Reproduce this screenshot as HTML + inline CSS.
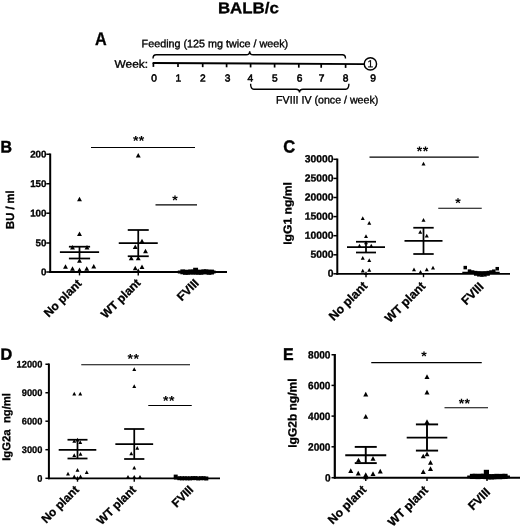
<!DOCTYPE html>
<html lang="en"><head><meta charset="utf-8"><title>BALB/c</title>
<style>html,body{margin:0;padding:0;background:#fff}body{width:520px;height:526px;overflow:hidden}svg{display:block}</style>
</head><body>
<svg width="520" height="526" viewBox="0 0 520 526" font-family='"Liberation Sans", sans-serif' fill="#000">
<rect width="520" height="526" fill="#fff"/>
<text x="248.40" y="13.20" font-size="15.7" font-weight="700" stroke="#000" stroke-width="0.3" text-anchor="middle" textLength="61.00" lengthAdjust="spacingAndGlyphs" transform="rotate(0.05 248.40 13.20)" >BALB/c</text>
<g id="panel-A">
<text x="95.00" y="44.90" font-size="18.3" font-weight="700" stroke="#000" stroke-width="0.3" textLength="11.70" lengthAdjust="spacingAndGlyphs" transform="rotate(0.05 95.00 44.90)" >A</text>
<text x="141.60" y="47.15" font-size="10.8" stroke="#000" stroke-width="0.35" textLength="146.60" lengthAdjust="spacingAndGlyphs" transform="rotate(0.05 141.60 47.15)" >Feeding (125 mg twice / week)</text>
<text x="114.60" y="67.80" font-size="11.0" stroke="#000" stroke-width="0.35" textLength="33.40" lengthAdjust="spacingAndGlyphs" transform="rotate(0.05 114.60 67.80)" >Week:</text>
<line x1="152.60" y1="63.00" x2="364.50" y2="64.10" stroke="#000" stroke-width="1.9" />
<line x1="153.40" y1="63.00" x2="153.40" y2="66.90" stroke="#000" stroke-width="1.7" />
<line x1="178.00" y1="63.13" x2="178.00" y2="67.03" stroke="#000" stroke-width="1.7" />
<line x1="202.70" y1="63.26" x2="202.70" y2="67.16" stroke="#000" stroke-width="1.7" />
<line x1="226.60" y1="63.38" x2="226.60" y2="67.28" stroke="#000" stroke-width="1.7" />
<line x1="250.60" y1="63.51" x2="250.60" y2="67.41" stroke="#000" stroke-width="1.7" />
<line x1="274.60" y1="63.63" x2="274.60" y2="67.53" stroke="#000" stroke-width="1.7" />
<line x1="298.80" y1="63.76" x2="298.80" y2="67.66" stroke="#000" stroke-width="1.7" />
<line x1="321.20" y1="63.88" x2="321.20" y2="67.78" stroke="#000" stroke-width="1.7" />
<line x1="345.60" y1="64.00" x2="345.60" y2="67.90" stroke="#000" stroke-width="1.7" />
<text x="154.00" y="81.60" font-size="10.2" stroke="#000" stroke-width="0.55" text-anchor="middle" transform="rotate(0.05 154.00 81.60)" >0</text>
<text x="178.30" y="81.60" font-size="10.2" stroke="#000" stroke-width="0.55" text-anchor="middle" transform="rotate(0.05 178.30 81.60)" >1</text>
<text x="202.80" y="81.60" font-size="10.2" stroke="#000" stroke-width="0.55" text-anchor="middle" transform="rotate(0.05 202.80 81.60)" >2</text>
<text x="227.60" y="81.60" font-size="10.2" stroke="#000" stroke-width="0.55" text-anchor="middle" transform="rotate(0.05 227.60 81.60)" >3</text>
<text x="250.40" y="81.60" font-size="10.2" stroke="#000" stroke-width="0.55" text-anchor="middle" transform="rotate(0.05 250.40 81.60)" >4</text>
<text x="274.90" y="81.60" font-size="10.2" stroke="#000" stroke-width="0.55" text-anchor="middle" transform="rotate(0.05 274.90 81.60)" >5</text>
<text x="299.60" y="81.60" font-size="10.2" stroke="#000" stroke-width="0.55" text-anchor="middle" transform="rotate(0.05 299.60 81.60)" >6</text>
<text x="321.60" y="81.60" font-size="10.2" stroke="#000" stroke-width="0.55" text-anchor="middle" transform="rotate(0.05 321.60 81.60)" >7</text>
<text x="345.60" y="81.60" font-size="10.2" stroke="#000" stroke-width="0.55" text-anchor="middle" transform="rotate(0.05 345.60 81.60)" >8</text>
<text x="373.20" y="81.60" font-size="10.2" stroke="#000" stroke-width="0.55" text-anchor="middle" transform="rotate(0.05 373.20 81.60)" >9</text>
<circle cx="370.4" cy="63.9" r="6.15" fill="#fff" stroke="#000" stroke-width="1.45"/>
<text x="370.30" y="67.35" font-size="10.2" stroke="#000" stroke-width="0.25" text-anchor="middle" transform="rotate(0.05 370.30 67.35)" >1</text>
<path d="M153.0 58.4 Q153.0 54.8 156.2 54.8 L246.2 54.8 Q249.7 54.8 249.7 51.199999999999996 Q249.7 54.8 253.2 54.8 L342.3 54.8 Q345.5 54.8 345.5 58.4" fill="none" stroke="#000" stroke-width="1.4"/>
<path d="M250.6 83.8 Q250.6 89.2 253.79999999999998 89.2 L296.0 89.2 Q299.5 89.2 299.5 92.4 Q299.5 89.2 303.0 89.2 L345.7 89.2 Q348.9 89.2 348.9 83.8" fill="none" stroke="#000" stroke-width="1.4"/>
<text x="276.10" y="103.50" font-size="10.8" stroke="#000" stroke-width="0.35" textLength="102.20" lengthAdjust="spacingAndGlyphs" transform="rotate(0.05 276.10 103.50)" >FVIII IV (once / week)</text>
</g>
<g id="panel-B">
<text x="0.50" y="152.40" font-size="16.7" font-weight="700" stroke="#000" stroke-width="0.45" textLength="11.50" lengthAdjust="spacingAndGlyphs" transform="rotate(0.05 0.50 152.40)" >B</text>
<line x1="50.20" y1="153.50" x2="50.20" y2="272.90" stroke="#000" stroke-width="2.0" />
<line x1="49.30" y1="272.00" x2="227.00" y2="272.00" stroke="#000" stroke-width="1.85" />
<line x1="46.30" y1="154.25" x2="50.20" y2="154.25" stroke="#000" stroke-width="1.5" />
<text x="46.50" y="157.50" font-size="9.8" font-weight="700" stroke="#000" stroke-width="0.3" text-anchor="end" textLength="16.35" lengthAdjust="spacingAndGlyphs" transform="rotate(0.05 46.50 157.50)" >200</text>
<line x1="46.30" y1="183.75" x2="50.20" y2="183.75" stroke="#000" stroke-width="1.5" />
<text x="46.50" y="187.00" font-size="9.8" font-weight="700" stroke="#000" stroke-width="0.3" text-anchor="end" textLength="16.35" lengthAdjust="spacingAndGlyphs" transform="rotate(0.05 46.50 187.00)" >150</text>
<line x1="46.30" y1="213.20" x2="50.20" y2="213.20" stroke="#000" stroke-width="1.5" />
<text x="46.50" y="216.45" font-size="9.8" font-weight="700" stroke="#000" stroke-width="0.3" text-anchor="end" textLength="16.35" lengthAdjust="spacingAndGlyphs" transform="rotate(0.05 46.50 216.45)" >100</text>
<line x1="46.30" y1="243.00" x2="50.20" y2="243.00" stroke="#000" stroke-width="1.5" />
<text x="46.50" y="246.25" font-size="9.8" font-weight="700" stroke="#000" stroke-width="0.3" text-anchor="end" textLength="10.90" lengthAdjust="spacingAndGlyphs" transform="rotate(0.05 46.50 246.25)" >50</text>
<line x1="46.30" y1="272.00" x2="50.20" y2="272.00" stroke="#000" stroke-width="1.5" />
<text x="46.50" y="275.25" font-size="9.8" font-weight="700" stroke="#000" stroke-width="0.3" text-anchor="end" textLength="5.45" lengthAdjust="spacingAndGlyphs" transform="rotate(0.05 46.50 275.25)" >0</text>
<line x1="79.50" y1="272.00" x2="79.50" y2="275.40" stroke="#000" stroke-width="1.4" />
<line x1="138.25" y1="272.00" x2="138.25" y2="275.40" stroke="#000" stroke-width="1.4" />
<text x="13.90" y="209.60" font-size="11.6" font-weight="700" stroke="#000" stroke-width="0.3" text-anchor="middle" textLength="38.60" lengthAdjust="spacingAndGlyphs" transform="rotate(-89.95 13.90 209.60)" >BU / ml</text>
<text x="82.40" y="284.20" font-size="11.9" font-weight="700" stroke="#000" stroke-width="0.3" text-anchor="end" transform="rotate(-45 82.40 284.20)" >No plant</text>
<text x="141.30" y="283.60" font-size="11.9" font-weight="700" stroke="#000" stroke-width="0.3" text-anchor="end" transform="rotate(-45 141.30 283.60)" >WT plant</text>
<text x="199.60" y="283.80" font-size="11.9" font-weight="700" stroke="#000" stroke-width="0.3" text-anchor="end" transform="rotate(-45 199.60 283.80)" >FVIII</text>
<line x1="91.00" y1="147.50" x2="195.00" y2="147.50" stroke="#000" stroke-width="1.15" />
<text x="138.75" y="145.40" font-size="14" font-weight="700" text-anchor="middle" transform="rotate(0.05 138.75 145.40)" letter-spacing="0.4">**</text>
<line x1="155.50" y1="204.80" x2="197.00" y2="204.80" stroke="#000" stroke-width="1.15" />
<text x="175.30" y="205.00" font-size="14" font-weight="700" text-anchor="middle" transform="rotate(0.05 175.30 205.00)" letter-spacing="0.4">*</text>
<line x1="59.90" y1="252.10" x2="99.10" y2="252.10" stroke="#000" stroke-width="1.75" /><line x1="68.90" y1="246.70" x2="90.10" y2="246.70" stroke="#000" stroke-width="1.75" /><line x1="68.90" y1="258.50" x2="90.10" y2="258.50" stroke="#000" stroke-width="1.75" /><line x1="79.50" y1="246.70" x2="79.50" y2="258.50" stroke="#000" stroke-width="1.75" />
<line x1="118.75" y1="243.00" x2="157.75" y2="243.00" stroke="#000" stroke-width="1.75" /><line x1="127.75" y1="230.00" x2="148.75" y2="230.00" stroke="#000" stroke-width="1.75" /><line x1="127.75" y1="256.25" x2="148.75" y2="256.25" stroke="#000" stroke-width="1.75" /><line x1="138.25" y1="230.00" x2="138.25" y2="256.25" stroke="#000" stroke-width="1.75" />
<line x1="177.80" y1="272.00" x2="215.60" y2="272.00" stroke="#000" stroke-width="2.8" /><line x1="196.70" y1="271.50" x2="196.70" y2="271.50" stroke="#000" stroke-width="2.8" /><line x1="196.70" y1="272.50" x2="196.70" y2="272.50" stroke="#000" stroke-width="2.8" /><line x1="196.70" y1="271.50" x2="196.70" y2="272.50" stroke="#000" stroke-width="2.8" />
<g fill="#000">
<path d="M77.05 201.35L81.95 201.35L79.50 196.85Z"/>
<path d="M77.05 236.10L81.95 236.10L79.50 231.60Z"/>
<path d="M70.05 249.60L74.95 249.60L72.50 245.10Z"/>
<path d="M84.55 249.60L89.45 249.60L87.00 245.10Z"/>
<path d="M77.05 262.85L81.95 262.85L79.50 258.35Z"/>
<path d="M63.05 268.85L67.95 268.85L65.50 264.35Z"/>
<path d="M91.30 268.60L96.20 268.60L93.75 264.10Z"/>
<path d="M70.05 270.85L74.95 270.85L72.50 266.35Z"/>
<path d="M84.30 270.85L89.20 270.85L86.75 266.35Z"/>
<path d="M77.05 272.10L81.95 272.10L79.50 267.60Z"/>
<path d="M135.80 157.60L140.70 157.60L138.25 153.10Z"/>
<path d="M139.55 243.35L144.45 243.35L142.00 238.85Z"/>
<path d="M132.80 249.10L137.70 249.10L135.25 244.60Z"/>
<path d="M143.05 253.35L147.95 253.35L145.50 248.85Z"/>
<path d="M128.80 260.35L133.70 260.35L131.25 255.85Z"/>
<path d="M135.80 260.35L140.70 260.35L138.25 255.85Z"/>
<path d="M132.80 270.35L137.70 270.35L135.25 265.85Z"/>
<path d="M139.55 269.10L144.45 269.10L142.00 264.60Z"/>
<path d="M135.80 273.10L140.70 273.10L138.25 268.60Z"/>
<rect x="193.15" y="267.75" width="4.90" height="4.90"/>
<rect x="180.35" y="269.39" width="4.90" height="4.90"/>
<rect x="182.96" y="269.89" width="4.90" height="4.90"/>
<rect x="185.57" y="269.83" width="4.90" height="4.90"/>
<rect x="188.18" y="269.48" width="4.90" height="4.90"/>
<rect x="190.79" y="269.65" width="4.90" height="4.90"/>
<rect x="193.40" y="269.61" width="4.90" height="4.90"/>
<rect x="196.00" y="269.76" width="4.90" height="4.90"/>
<rect x="198.61" y="269.85" width="4.90" height="4.90"/>
<rect x="201.22" y="269.37" width="4.90" height="4.90"/>
<rect x="203.83" y="269.32" width="4.90" height="4.90"/>
<rect x="206.44" y="269.89" width="4.90" height="4.90"/>
<rect x="209.05" y="269.60" width="4.90" height="4.90"/>
</g>
</g>
<g id="panel-C">
<text x="283.20" y="152.40" font-size="17.5" font-weight="700" stroke="#000" stroke-width="0.45" textLength="11.90" lengthAdjust="spacingAndGlyphs" transform="rotate(0.05 283.20 152.40)" >C</text>
<line x1="337.30" y1="158.55" x2="337.30" y2="274.70" stroke="#000" stroke-width="2.0" />
<line x1="336.40" y1="273.80" x2="510.00" y2="273.80" stroke="#000" stroke-width="1.85" />
<line x1="333.40" y1="159.30" x2="337.30" y2="159.30" stroke="#000" stroke-width="1.5" />
<text x="333.60" y="162.35" font-size="10.35" font-weight="700" stroke="#000" stroke-width="0.3" text-anchor="end" transform="rotate(0.05 333.60 162.35)" >30000</text>
<line x1="333.40" y1="178.40" x2="337.30" y2="178.40" stroke="#000" stroke-width="1.5" />
<text x="333.60" y="181.45" font-size="10.35" font-weight="700" stroke="#000" stroke-width="0.3" text-anchor="end" transform="rotate(0.05 333.60 181.45)" >25000</text>
<line x1="333.40" y1="197.50" x2="337.30" y2="197.50" stroke="#000" stroke-width="1.5" />
<text x="333.60" y="200.55" font-size="10.35" font-weight="700" stroke="#000" stroke-width="0.3" text-anchor="end" transform="rotate(0.05 333.60 200.55)" >20000</text>
<line x1="333.40" y1="216.60" x2="337.30" y2="216.60" stroke="#000" stroke-width="1.5" />
<text x="333.60" y="219.65" font-size="10.35" font-weight="700" stroke="#000" stroke-width="0.3" text-anchor="end" transform="rotate(0.05 333.60 219.65)" >15000</text>
<line x1="333.40" y1="235.70" x2="337.30" y2="235.70" stroke="#000" stroke-width="1.5" />
<text x="333.60" y="238.75" font-size="10.35" font-weight="700" stroke="#000" stroke-width="0.3" text-anchor="end" transform="rotate(0.05 333.60 238.75)" >10000</text>
<line x1="333.40" y1="254.80" x2="337.30" y2="254.80" stroke="#000" stroke-width="1.5" />
<text x="333.60" y="257.85" font-size="10.35" font-weight="700" stroke="#000" stroke-width="0.3" text-anchor="end" transform="rotate(0.05 333.60 257.85)" >5000</text>
<line x1="333.40" y1="273.80" x2="337.30" y2="273.80" stroke="#000" stroke-width="1.5" />
<text x="333.60" y="276.85" font-size="10.35" font-weight="700" stroke="#000" stroke-width="0.3" text-anchor="end" transform="rotate(0.05 333.60 276.85)" >0</text>
<line x1="366.00" y1="273.80" x2="366.00" y2="277.20" stroke="#000" stroke-width="1.4" />
<line x1="423.50" y1="273.80" x2="423.50" y2="277.20" stroke="#000" stroke-width="1.4" />
<text x="291.60" y="213.50" font-size="11.5" font-weight="700" stroke="#000" stroke-width="0.3" text-anchor="middle" textLength="62.60" lengthAdjust="spacingAndGlyphs" transform="rotate(-89.95 291.60 213.50)" >IgG1 ng/ml</text>
<text x="368.20" y="286.70" font-size="12.2" font-weight="700" stroke="#000" stroke-width="0.3" text-anchor="end" transform="rotate(-45 368.20 286.70)" >No plant</text>
<text x="426.20" y="286.90" font-size="12.2" font-weight="700" stroke="#000" stroke-width="0.3" text-anchor="end" transform="rotate(-45 426.20 286.90)" >WT plant</text>
<text x="484.40" y="287.30" font-size="12.2" font-weight="700" stroke="#000" stroke-width="0.3" text-anchor="end" transform="rotate(-45 484.40 287.30)" >FVIII</text>
<line x1="369.50" y1="157.10" x2="478.75" y2="157.10" stroke="#000" stroke-width="1.15" />
<text x="422.70" y="156.10" font-size="14" font-weight="700" text-anchor="middle" transform="rotate(0.05 422.70 156.10)" letter-spacing="0.4">**</text>
<line x1="438.25" y1="208.20" x2="481.75" y2="208.20" stroke="#000" stroke-width="1.15" />
<text x="458.30" y="207.70" font-size="14" font-weight="700" text-anchor="middle" transform="rotate(0.05 458.30 207.70)" letter-spacing="0.4">*</text>
<line x1="347.00" y1="247.00" x2="385.00" y2="247.00" stroke="#000" stroke-width="1.75" /><line x1="356.00" y1="241.75" x2="376.00" y2="241.75" stroke="#000" stroke-width="1.75" /><line x1="356.00" y1="252.50" x2="376.00" y2="252.50" stroke="#000" stroke-width="1.75" /><line x1="366.00" y1="241.75" x2="366.00" y2="252.50" stroke="#000" stroke-width="1.75" />
<line x1="404.50" y1="240.75" x2="442.50" y2="240.75" stroke="#000" stroke-width="1.75" /><line x1="413.30" y1="227.75" x2="433.70" y2="227.75" stroke="#000" stroke-width="1.75" /><line x1="413.30" y1="254.00" x2="433.70" y2="254.00" stroke="#000" stroke-width="1.75" /><line x1="423.50" y1="227.75" x2="423.50" y2="254.00" stroke="#000" stroke-width="1.75" />
<line x1="462.30" y1="272.30" x2="499.70" y2="272.30" stroke="#000" stroke-width="1.2" /><line x1="481.00" y1="272.00" x2="481.00" y2="272.00" stroke="#000" stroke-width="1.2" /><line x1="481.00" y1="272.60" x2="481.00" y2="272.60" stroke="#000" stroke-width="1.2" /><line x1="481.00" y1="272.00" x2="481.00" y2="272.60" stroke="#000" stroke-width="1.2" />
<g fill="#000">
<path d="M360.75 219.96L364.75 219.96L362.75 216.29Z"/>
<path d="M367.25 224.71L371.25 224.71L369.25 221.04Z"/>
<path d="M364.00 237.96L368.00 237.96L366.00 234.29Z"/>
<path d="M364.00 244.21L368.00 244.21L366.00 240.54Z"/>
<path d="M357.50 247.46L361.50 247.46L359.50 243.79Z"/>
<path d="M369.25 247.46L373.25 247.46L371.25 243.79Z"/>
<path d="M360.75 259.71L364.75 259.71L362.75 256.04Z"/>
<path d="M367.25 261.96L371.25 261.96L369.25 258.29Z"/>
<path d="M360.75 272.46L364.75 272.46L362.75 268.79Z"/>
<path d="M367.25 271.71L371.25 271.71L369.25 268.04Z"/>
<path d="M364.00 274.96L368.00 274.96L366.00 271.29Z"/>
<path d="M421.50 165.46L425.50 165.46L423.50 161.79Z"/>
<path d="M421.50 221.71L425.50 221.71L423.50 218.04Z"/>
<path d="M418.25 233.71L422.25 233.71L420.25 230.04Z"/>
<path d="M424.75 237.46L428.75 237.46L426.75 233.79Z"/>
<path d="M412.00 271.21L416.00 271.21L414.00 267.54Z"/>
<path d="M418.50 273.71L422.50 273.71L420.50 270.04Z"/>
<path d="M424.75 271.21L428.75 271.21L426.75 267.54Z"/>
<path d="M431.00 269.46L435.00 269.46L433.00 265.79Z"/>
<rect x="463.50" y="265.85" width="3.50" height="3.50"/>
<rect x="495.50" y="266.95" width="3.50" height="3.50"/>
<rect x="467.75" y="269.35" width="3.50" height="3.50"/>
<rect x="470.85" y="270.25" width="3.50" height="3.50"/>
<rect x="473.95" y="270.85" width="3.50" height="3.50"/>
<rect x="477.05" y="271.15" width="3.50" height="3.50"/>
<rect x="480.15" y="271.25" width="3.50" height="3.50"/>
<rect x="483.25" y="271.15" width="3.50" height="3.50"/>
<rect x="486.35" y="270.85" width="3.50" height="3.50"/>
<rect x="489.25" y="270.25" width="3.50" height="3.50"/>
<rect x="492.05" y="269.45" width="3.50" height="3.50"/>
<rect x="473.95" y="272.25" width="3.50" height="3.50"/>
<rect x="477.05" y="273.05" width="3.50" height="3.50"/>
<rect x="480.15" y="273.35" width="3.50" height="3.50"/>
<rect x="483.25" y="273.05" width="3.50" height="3.50"/>
<rect x="486.35" y="272.25" width="3.50" height="3.50"/>
</g>
</g>
<g id="panel-D">
<text x="0.40" y="359.85" font-size="16.5" font-weight="700" stroke="#000" stroke-width="0.45" textLength="11.70" lengthAdjust="spacingAndGlyphs" transform="rotate(0.05 0.40 359.85)" >D</text>
<line x1="48.90" y1="363.50" x2="48.90" y2="479.20" stroke="#000" stroke-width="2.0" />
<line x1="48.00" y1="478.30" x2="220.00" y2="478.30" stroke="#000" stroke-width="1.85" />
<line x1="45.40" y1="364.25" x2="48.90" y2="364.25" stroke="#000" stroke-width="1.5" />
<text x="42.40" y="367.60" font-size="9.6" font-weight="700" stroke="#000" stroke-width="0.3" text-anchor="end" textLength="25.80" lengthAdjust="spacingAndGlyphs" transform="rotate(0.05 42.40 367.60)" >12000</text>
<line x1="45.40" y1="392.75" x2="48.90" y2="392.75" stroke="#000" stroke-width="1.5" />
<text x="42.40" y="396.10" font-size="9.6" font-weight="700" stroke="#000" stroke-width="0.3" text-anchor="end" textLength="20.64" lengthAdjust="spacingAndGlyphs" transform="rotate(0.05 42.40 396.10)" >9000</text>
<line x1="45.40" y1="421.20" x2="48.90" y2="421.20" stroke="#000" stroke-width="1.5" />
<text x="42.40" y="424.55" font-size="9.6" font-weight="700" stroke="#000" stroke-width="0.3" text-anchor="end" textLength="20.64" lengthAdjust="spacingAndGlyphs" transform="rotate(0.05 42.40 424.55)" >6000</text>
<line x1="45.40" y1="449.70" x2="48.90" y2="449.70" stroke="#000" stroke-width="1.5" />
<text x="42.40" y="453.05" font-size="9.6" font-weight="700" stroke="#000" stroke-width="0.3" text-anchor="end" textLength="20.64" lengthAdjust="spacingAndGlyphs" transform="rotate(0.05 42.40 453.05)" >3000</text>
<line x1="45.40" y1="478.30" x2="48.90" y2="478.30" stroke="#000" stroke-width="1.5" />
<text x="42.40" y="481.65" font-size="9.6" font-weight="700" stroke="#000" stroke-width="0.3" text-anchor="end" textLength="5.16" lengthAdjust="spacingAndGlyphs" transform="rotate(0.05 42.40 481.65)" >0</text>
<line x1="77.50" y1="478.30" x2="77.50" y2="481.70" stroke="#000" stroke-width="1.4" />
<line x1="134.25" y1="478.30" x2="134.25" y2="481.70" stroke="#000" stroke-width="1.4" />
<text x="10.20" y="426.90" font-size="11.4" font-weight="700" stroke="#000" stroke-width="0.3" text-anchor="middle" textLength="67.80" lengthAdjust="spacingAndGlyphs" transform="rotate(-89.95 10.20 426.90)" >IgG2a&#160; ng/ml</text>
<text x="79.70" y="490.40" font-size="11.8" font-weight="700" stroke="#000" stroke-width="0.3" text-anchor="end" transform="rotate(-45 79.70 490.40)" >No plant</text>
<text x="136.80" y="490.40" font-size="11.8" font-weight="700" stroke="#000" stroke-width="0.3" text-anchor="end" transform="rotate(-45 136.80 490.40)" >WT plant</text>
<text x="194.20" y="490.30" font-size="11.8" font-weight="700" stroke="#000" stroke-width="0.3" text-anchor="end" transform="rotate(-45 194.20 490.30)" >FVIII</text>
<line x1="81.25" y1="364.75" x2="190.00" y2="364.75" stroke="#000" stroke-width="1.15" />
<text x="133.40" y="363.60" font-size="14" font-weight="700" text-anchor="middle" transform="rotate(0.05 133.40 363.60)" letter-spacing="0.4">**</text>
<line x1="148.25" y1="405.50" x2="191.75" y2="405.50" stroke="#000" stroke-width="1.15" />
<text x="168.90" y="405.50" font-size="14" font-weight="700" text-anchor="middle" transform="rotate(0.05 168.90 405.50)" letter-spacing="0.4">**</text>
<line x1="58.70" y1="449.75" x2="96.30" y2="449.75" stroke="#000" stroke-width="1.75" /><line x1="67.50" y1="439.75" x2="87.50" y2="439.75" stroke="#000" stroke-width="1.75" /><line x1="67.50" y1="458.50" x2="87.50" y2="458.50" stroke="#000" stroke-width="1.75" /><line x1="77.50" y1="439.75" x2="77.50" y2="458.50" stroke="#000" stroke-width="1.75" />
<line x1="115.35" y1="444.00" x2="153.15" y2="444.00" stroke="#000" stroke-width="1.75" /><line x1="124.15" y1="429.00" x2="144.35" y2="429.00" stroke="#000" stroke-width="1.75" /><line x1="124.15" y1="459.00" x2="144.35" y2="459.00" stroke="#000" stroke-width="1.75" /><line x1="134.25" y1="429.00" x2="134.25" y2="459.00" stroke="#000" stroke-width="1.75" />
<line x1="173.90" y1="478.30" x2="208.10" y2="478.30" stroke="#000" stroke-width="2.4" /><line x1="191.00" y1="478.00" x2="191.00" y2="478.00" stroke="#000" stroke-width="2.4" /><line x1="191.00" y1="478.60" x2="191.00" y2="478.60" stroke="#000" stroke-width="2.4" /><line x1="191.00" y1="478.00" x2="191.00" y2="478.60" stroke="#000" stroke-width="2.4" />
<g fill="#000">
<path d="M72.30 395.42L76.20 395.42L74.25 391.84Z"/>
<path d="M78.30 395.42L82.20 395.42L80.25 391.84Z"/>
<path d="M75.55 441.42L79.45 441.42L77.50 437.84Z"/>
<path d="M78.30 443.92L82.20 443.92L80.25 440.34Z"/>
<path d="M72.30 442.67L76.20 442.67L74.25 439.09Z"/>
<path d="M72.30 456.92L76.20 456.92L74.25 453.34Z"/>
<path d="M78.55 455.67L82.45 455.67L80.50 452.09Z"/>
<path d="M66.05 475.42L69.95 475.42L68.00 471.84Z"/>
<path d="M75.55 471.67L79.45 471.67L77.50 468.09Z"/>
<path d="M84.80 473.92L88.70 473.92L86.75 470.34Z"/>
<path d="M72.30 478.17L76.20 478.17L74.25 474.59Z"/>
<path d="M78.55 478.17L82.45 478.17L80.50 474.59Z"/>
<path d="M75.55 479.67L79.45 479.67L77.50 476.09Z"/>
<path d="M132.30 370.92L136.20 370.92L134.25 367.34Z"/>
<path d="M132.30 387.92L136.20 387.92L134.25 384.34Z"/>
<path d="M135.30 449.67L139.20 449.67L137.25 446.09Z"/>
<path d="M129.30 455.17L133.20 455.17L131.25 451.59Z"/>
<path d="M132.30 469.42L136.20 469.42L134.25 465.84Z"/>
<path d="M126.05 478.47L129.95 478.47L128.00 474.89Z"/>
<path d="M132.30 478.47L136.20 478.47L134.25 474.89Z"/>
<path d="M138.05 478.47L141.95 478.47L140.00 474.89Z"/>
<rect x="173.70" y="474.60" width="4.00" height="4.00"/>
<rect x="177.30" y="476.20" width="4.00" height="4.00"/>
<rect x="180.00" y="476.32" width="4.00" height="4.00"/>
<rect x="182.70" y="476.25" width="4.00" height="4.00"/>
<rect x="185.40" y="476.34" width="4.00" height="4.00"/>
<rect x="188.10" y="476.35" width="4.00" height="4.00"/>
<rect x="190.80" y="476.13" width="4.00" height="4.00"/>
<rect x="193.50" y="476.11" width="4.00" height="4.00"/>
<rect x="196.20" y="476.43" width="4.00" height="4.00"/>
<rect x="198.90" y="476.20" width="4.00" height="4.00"/>
<rect x="201.60" y="476.19" width="4.00" height="4.00"/>
<rect x="204.30" y="476.50" width="4.00" height="4.00"/>
</g>
</g>
<g id="panel-E">
<text x="283.10" y="360.00" font-size="17" font-weight="700" stroke="#000" stroke-width="0.45" textLength="10.60" lengthAdjust="spacingAndGlyphs" transform="rotate(0.05 283.10 360.00)" >E</text>
<line x1="334.80" y1="354.00" x2="334.80" y2="478.60" stroke="#000" stroke-width="2.2" />
<line x1="333.90" y1="477.70" x2="520.00" y2="477.70" stroke="#000" stroke-width="2.0500000000000003" />
<line x1="331.50" y1="354.75" x2="334.80" y2="354.75" stroke="#000" stroke-width="1.5" />
<text x="330.50" y="358.60" font-size="10.7" font-weight="700" stroke="#000" stroke-width="0.3" text-anchor="end" textLength="22.48" lengthAdjust="spacingAndGlyphs" transform="rotate(0.05 330.50 358.60)" >8000</text>
<line x1="331.50" y1="385.40" x2="334.80" y2="385.40" stroke="#000" stroke-width="1.5" />
<text x="330.50" y="389.25" font-size="10.7" font-weight="700" stroke="#000" stroke-width="0.3" text-anchor="end" textLength="22.48" lengthAdjust="spacingAndGlyphs" transform="rotate(0.05 330.50 389.25)" >6000</text>
<line x1="331.50" y1="416.10" x2="334.80" y2="416.10" stroke="#000" stroke-width="1.5" />
<text x="330.50" y="419.95" font-size="10.7" font-weight="700" stroke="#000" stroke-width="0.3" text-anchor="end" textLength="22.48" lengthAdjust="spacingAndGlyphs" transform="rotate(0.05 330.50 419.95)" >4000</text>
<line x1="331.50" y1="446.80" x2="334.80" y2="446.80" stroke="#000" stroke-width="1.5" />
<text x="330.50" y="450.65" font-size="10.7" font-weight="700" stroke="#000" stroke-width="0.3" text-anchor="end" textLength="22.48" lengthAdjust="spacingAndGlyphs" transform="rotate(0.05 330.50 450.65)" >2000</text>
<line x1="331.50" y1="477.70" x2="334.80" y2="477.70" stroke="#000" stroke-width="1.5" />
<text x="330.50" y="481.55" font-size="10.7" font-weight="700" stroke="#000" stroke-width="0.3" text-anchor="end" textLength="5.62" lengthAdjust="spacingAndGlyphs" transform="rotate(0.05 330.50 481.55)" >0</text>
<line x1="365.75" y1="477.70" x2="365.75" y2="481.10" stroke="#000" stroke-width="1.4" />
<line x1="427.00" y1="477.70" x2="427.00" y2="481.10" stroke="#000" stroke-width="1.4" />
<line x1="487.00" y1="477.70" x2="487.00" y2="481.10" stroke="#000" stroke-width="1.4" />
<text x="296.50" y="413.10" font-size="12" font-weight="700" stroke="#000" stroke-width="0.3" text-anchor="middle" textLength="69.20" lengthAdjust="spacingAndGlyphs" transform="rotate(-89.95 296.50 413.10)" >IgG2b ng/ml</text>
<text x="367.00" y="490.50" font-size="12.1" font-weight="700" stroke="#000" stroke-width="0.3" text-anchor="end" transform="rotate(-45 367.00 490.50)" >No plant</text>
<text x="428.90" y="491.00" font-size="12.1" font-weight="700" stroke="#000" stroke-width="0.3" text-anchor="end" transform="rotate(-45 428.90 491.00)" >WT plant</text>
<text x="491.00" y="492.80" font-size="12.1" font-weight="700" stroke="#000" stroke-width="0.3" text-anchor="end" transform="rotate(-45 491.00 492.80)" >FVIII</text>
<line x1="371.25" y1="362.60" x2="481.75" y2="362.60" stroke="#000" stroke-width="1.15" />
<text x="424.20" y="361.10" font-size="14" font-weight="700" text-anchor="middle" transform="rotate(0.05 424.20 361.10)" letter-spacing="0.4">*</text>
<line x1="444.50" y1="407.75" x2="488.00" y2="407.75" stroke="#000" stroke-width="1.15" />
<text x="464.60" y="408.20" font-size="14" font-weight="700" text-anchor="middle" transform="rotate(0.05 464.60 408.20)" letter-spacing="0.4">**</text>
<line x1="345.25" y1="455.20" x2="386.25" y2="455.20" stroke="#000" stroke-width="1.9" /><line x1="354.75" y1="446.90" x2="376.75" y2="446.90" stroke="#000" stroke-width="1.9" /><line x1="354.75" y1="463.10" x2="376.75" y2="463.10" stroke="#000" stroke-width="1.9" /><line x1="365.75" y1="446.90" x2="365.75" y2="463.10" stroke="#000" stroke-width="1.9" />
<line x1="406.70" y1="437.60" x2="447.30" y2="437.60" stroke="#000" stroke-width="1.9" /><line x1="415.90" y1="424.40" x2="438.10" y2="424.40" stroke="#000" stroke-width="1.9" /><line x1="415.90" y1="450.60" x2="438.10" y2="450.60" stroke="#000" stroke-width="1.9" /><line x1="427.00" y1="424.40" x2="427.00" y2="450.60" stroke="#000" stroke-width="1.9" />
<line x1="467.20" y1="476.80" x2="510.00" y2="476.80" stroke="#000" stroke-width="2.8" /><line x1="488.60" y1="476.50" x2="488.60" y2="476.50" stroke="#000" stroke-width="2.8" /><line x1="488.60" y1="477.10" x2="488.60" y2="477.10" stroke="#000" stroke-width="2.8" /><line x1="488.60" y1="476.50" x2="488.60" y2="477.10" stroke="#000" stroke-width="2.8" />
<g fill="#000">
<path d="M363.25 396.39L368.25 396.39L365.75 391.80Z"/>
<path d="M363.25 418.64L368.25 418.64L365.75 414.05Z"/>
<path d="M356.00 462.34L361.00 462.34L358.50 457.75Z"/>
<path d="M370.50 460.64L375.50 460.64L373.00 456.05Z"/>
<path d="M348.25 472.89L353.25 472.89L350.75 468.30Z"/>
<path d="M377.75 473.39L382.75 473.39L380.25 468.80Z"/>
<path d="M355.75 475.39L360.75 475.39L358.25 470.80Z"/>
<path d="M370.50 475.89L375.50 475.89L373.00 471.30Z"/>
<path d="M363.25 476.89L368.25 476.89L365.75 472.30Z"/>
<path d="M363.25 479.14L368.25 479.14L365.75 474.55Z"/>
<path d="M424.50 378.89L429.50 378.89L427.00 374.30Z"/>
<path d="M424.50 394.39L429.50 394.39L427.00 389.80Z"/>
<path d="M424.50 423.89L429.50 423.89L427.00 419.30Z"/>
<path d="M424.50 456.14L429.50 456.14L427.00 451.55Z"/>
<path d="M420.75 458.34L425.75 458.34L423.25 453.75Z"/>
<path d="M428.00 464.64L433.00 464.64L430.50 460.05Z"/>
<path d="M428.00 470.89L433.00 470.89L430.50 466.30Z"/>
<path d="M420.75 473.89L425.75 473.89L423.25 469.30Z"/>
<rect x="483.80" y="469.80" width="5.20" height="5.20"/>
<rect x="469.90" y="473.84" width="5.20" height="5.20"/>
<rect x="472.61" y="473.76" width="5.20" height="5.20"/>
<rect x="475.32" y="473.94" width="5.20" height="5.20"/>
<rect x="478.02" y="473.79" width="5.20" height="5.20"/>
<rect x="480.73" y="473.74" width="5.20" height="5.20"/>
<rect x="483.44" y="473.94" width="5.20" height="5.20"/>
<rect x="486.15" y="474.25" width="5.20" height="5.20"/>
<rect x="488.86" y="474.18" width="5.20" height="5.20"/>
<rect x="491.57" y="474.16" width="5.20" height="5.20"/>
<rect x="494.27" y="473.83" width="5.20" height="5.20"/>
<rect x="496.98" y="474.02" width="5.20" height="5.20"/>
<rect x="499.69" y="473.87" width="5.20" height="5.20"/>
<rect x="502.40" y="473.80" width="5.20" height="5.20"/>
</g>
</g>
</svg>
</body></html>
